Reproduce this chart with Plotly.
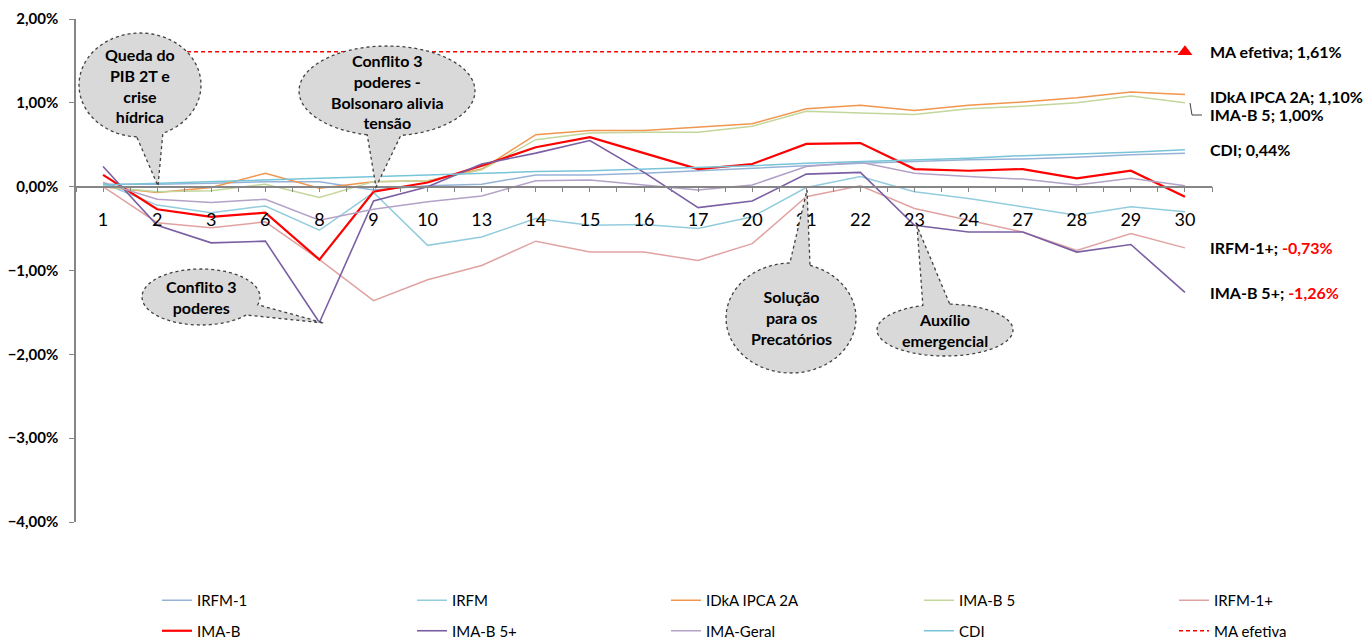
import numpy as np
import plotly.graph_objects as go

# dias úteis do mês (eixo x)
dias = ["1", "2", "3", "6", "8", "9", "10", "13", "14", "15", "16", "17",
        "20", "21", "22", "23", "24", "27", "28", "29", "30"]

# rentabilidade acumulada no mês (%)
irfm_1 = [0.03, 0.03, 0.04, 0.06, 0.06, -0.04, 0.01, 0.03, 0.14, 0.14, 0.16,
          0.19, 0.22, 0.25, 0.28, 0.30, 0.32, 0.33, 0.35, 0.38, 0.40]
irfm = [0.04, -0.22, -0.31, -0.23, -0.52, -0.07, -0.70, -0.60, -0.38, -0.46, -0.45,
        -0.50, -0.36, -0.01, 0.12, -0.06, -0.14, -0.24, -0.34, -0.24, -0.30]
idka_2a = [0.00, -0.07, -0.01, 0.16, -0.02, 0.06, 0.07, 0.21, 0.62, 0.67, 0.67,
           0.71, 0.75, 0.93, 0.97, 0.91, 0.97, 1.01, 1.06, 1.13, 1.10]
ima_b5 = [0.00, -0.06, -0.05, 0.03, -0.13, 0.06, 0.07, 0.20, 0.56, 0.64, 0.65,
          0.65, 0.72, 0.90, 0.88, 0.86, 0.93, 0.96, 1.00, 1.08, 1.00]
irfm_1mais = [0.00, -0.43, -0.49, -0.42, -0.87, -1.36, -1.11, -0.94, -0.65, -0.78, -0.78,
              -0.88, -0.68, -0.12, 0.01, -0.26, -0.40, -0.54, -0.76, -0.56, -0.73]
ima_b = [0.14, -0.27, -0.36, -0.31, -0.87, -0.06, 0.05, 0.25, 0.47, 0.59, 0.40,
         0.21, 0.27, 0.51, 0.52, 0.21, 0.19, 0.21, 0.10, 0.19, -0.12]
ima_b5mais = [0.24, -0.46, -0.67, -0.65, -1.62, -0.17, 0.00, 0.27, 0.40, 0.55, 0.17,
              -0.25, -0.17, 0.15, 0.17, -0.46, -0.54, -0.54, -0.78, -0.69, -1.26]
ima_geral = [0.05, -0.15, -0.19, -0.15, -0.40, -0.27, -0.18, -0.11, 0.07, 0.08, 0.02,
             -0.04, 0.02, 0.24, 0.29, 0.16, 0.12, 0.09, 0.02, 0.10, 0.01]
cdi = [0.02, 0.04, 0.06, 0.08, 0.10, 0.12, 0.14, 0.16, 0.18, 0.19, 0.21,
       0.23, 0.25, 0.28, 0.30, 0.32, 0.34, 0.37, 0.39, 0.41, 0.44]
ma_efetiva = [1.61] * len(dias)

fonte = "Lato, 'Open Sans', sans-serif"
cinza_eixo = "#868686"

# conversão de pixels da imagem para coordenadas "paper"
W, H = 1366, 639
L, R, T, B = 76, 154, 19, 117
PW, PH = W - L - R, H - T - B


def px(x):
    return (x - L) / PW


def py(y):
    return (H - B - y) / PH


def bolha(cx, cy, rx, ry, a1, a2, ponta):
    # elipse de a1 até a2 (graus), fechando pela ponta do balão
    ang = np.radians(np.linspace(a1, a2, 90))
    pts = [(cx + rx * np.cos(t), cy + ry * np.sin(t)) for t in ang]
    pts.append(ponta)
    return "M " + " L ".join(f"{px(x):.5f},{py(y):.5f}" for x, y in pts) + " Z"


pos = list(range(len(dias)))

series = [
    ("IRFM-1", irfm_1, "#95B3D7", 1.5),
    ("IRFM", irfm, "#93CDDD", 1.5),
    ("IDkA IPCA 2A", idka_2a, "#F0964E", 1.5),
    ("IMA-B 5", ima_b5, "#C3D69B", 1.5),
    ("IRFM-1+", irfm_1mais, "#E0A3A2", 1.5),
    ("IMA-B", ima_b, "#FF0000", 2.2),
    ("IMA-B 5+", ima_b5mais, "#7A5FA3", 1.6),
    ("IMA-Geral", ima_geral, "#B3A2C7", 1.5),
    ("CDI", cdi, "#78C4D8", 1.5),
]

fig = go.Figure()
for i, (nome, vals, cor, larg) in enumerate(series):
    k = i % 5
    fig.add_trace(go.Scatter(
        x=pos, y=vals, name=nome, mode="lines",
        line=dict(color=cor, width=larg),
        legend="legend" if k == 0 else f"legend{k + 1}",
        legendgroup=nome,
    ))

fig.add_trace(go.Scatter(
    x=pos, y=ma_efetiva, name="MA efetiva", mode="lines",
    line=dict(color="#FF0000", width=1.5, dash="4px,3px"),
    legend="legend5", legendgroup="MA efetiva",
))
fig.add_trace(go.Scatter(
    x=[pos[-1]], y=[ma_efetiva[-1]], mode="markers", showlegend=False,
    marker=dict(symbol="triangle-up", size=13, color="#FF0000"),
))

# balões de comentário
baloes = [
    ("Queda do<br>PIB 2T e<br>crise<br>hídrica", 140, 85, 61, 52, 93, 68 + 360, (158, 186)),
    ("Conflito 3<br>poderes -<br>Bolsonaro alivia<br>tensão", 387, 91, 88, 45, 103, 81 + 360, (376, 187)),
    ("Conflito 3<br>poderes", 201, 297, 59, 28, 40, 16 + 360, (324, 323)),
    ("Solução<br>para os<br>Precatórios", 791, 318, 65, 55, 287, 269 + 360, (807, 190)),
    ("Auxílio<br>emergencial", 945, 330, 68, 26, 274, 251 + 360, (917, 226)),
]
shapes = []
annotations = []
for texto, cx, cy, rx, ry, a1, a2, ponta in baloes:
    shapes.append(dict(
        type="path", xref="paper", yref="paper", layer="above",
        path=bolha(cx, cy, rx, ry, a1, a2, ponta),
        fillcolor="#D9D9D9", line=dict(color="#404040", width=1.3, dash="dot"),
    ))
    annotations.append(dict(
        xref="paper", yref="paper", x=px(cx), y=py(cy), text=texto,
        xanchor="center", yanchor="middle",
        showarrow=False, align="center",
        font=dict(family=fonte, size=16, color="black", weight="bold"),
    ))

# rótulos dos valores finais
rotulos = [
    ("MA efetiva", ma_efetiva, 0),
    ("IDkA IPCA 2A", idka_2a, -2),
    ("IMA-B 5", ima_b5, -12),
    ("CDI", cdi, 0),
    ("IRFM-1+", irfm_1mais, 0),
    ("IMA-B 5+", ima_b5mais, 0),
]
for nome, vals, desloc in rotulos:
    v = vals[-1]
    valor = f"{v:.2f}".replace(".", ",") + "%"
    if v < 0:
        valor = f"<span style='color:#FF0000'>{valor}</span>"
    annotations.append(dict(
        xref="paper", yref="y", x=px(1208), y=v, yshift=desloc,
        text=f"{nome}; {valor}", showarrow=False,
        xanchor="left", yanchor="middle",
        font=dict(family=fonte, size=16, color="black", weight="bold"),
    ))

# linha de chamada do IMA-B 5
shapes.append(dict(
    type="path", xref="paper", yref="paper", layer="above",
    path=f"M {px(1190)},{py(103)} L {px(1192)},{py(115)} L {px(1202)},{py(115)}",
    line=dict(color="#404040", width=1),
))

layout_legendas = {}
col_texto = [198, 453, 707, 960, 1215]
for k, xt in enumerate(col_texto):
    chave = "legend" if k == 0 else f"legend{k + 1}"
    layout_legendas[chave] = dict(
        x=px(xt - 41), y=py(584), xanchor="left", yanchor="top",
        orientation="v", traceorder="grouped", tracegroupgap=8,
        bgcolor="rgba(0,0,0,0)",
        font=dict(family=fonte, size=15, color="black"),
    )

fig.update_layout(
    width=W, height=H,
    margin=dict(l=L, r=R, t=T, b=B, autoexpand=False),
    plot_bgcolor="white",
    paper_bgcolor="white",
    separators=",.",
    font=dict(family=fonte, color="black"),
    shapes=shapes,
    annotations=annotations,
    xaxis=dict(
        range=[-0.5, len(dias) - 0.5],
        tickmode="array", tickvals=pos, ticktext=dias,
        anchor="free", position=4 / 6,
        showline=True, linecolor=cinza_eixo, linewidth=1.5,
        ticks="outside", ticklen=5, tickcolor=cinza_eixo,
        minor=dict(ticks="outside", ticklen=5, tickcolor=cinza_eixo,
                   tickmode="linear", tick0=0.5, dtick=1),
        ticklabelstandoff=12,
        showgrid=False, zeroline=False,
        tickfont=dict(family=fonte, size=18, color="black"),
    ),
    yaxis=dict(
        range=[-4, 2],
        tickmode="linear", tick0=-4, dtick=1,
        tickformat=".2f", ticksuffix="%",
        showline=True, linecolor=cinza_eixo, linewidth=1.5,
        ticks="outside", ticklen=5, tickcolor=cinza_eixo,
        ticklabelstandoff=8,
        showgrid=False, zeroline=False,
        tickfont=dict(family=fonte, size=15, color="black", weight="bold"),
    ),
    **layout_legendas,
)

# a página não deve ter a margem padrão do <body>
fig.write_html("out.html", config={"displayModeBar": False},
               post_script="document.body.style.margin = '0';")
